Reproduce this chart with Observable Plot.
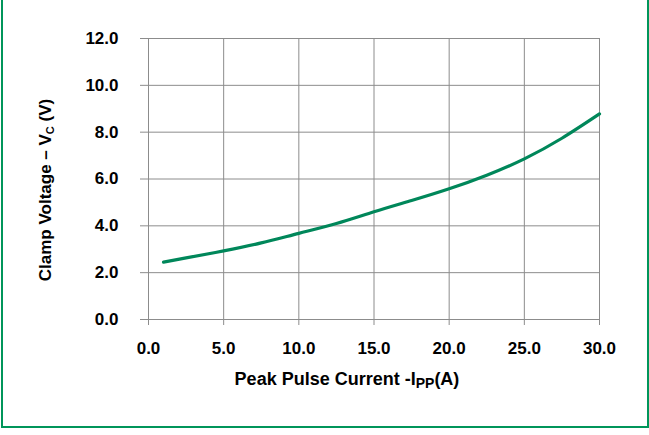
<!DOCTYPE html>
<html><head><meta charset="utf-8">
<script src="https://cdn.jsdelivr.net/npm/d3@7"></script>
<script src="https://cdn.jsdelivr.net/npm/@observablehq/plot@0.6"></script>
<style>
body{margin:0;background:#fff;}
#wrap{position:relative;width:649px;height:435px;overflow:hidden;}
#wrap svg{position:absolute;left:0;top:0;}
#wrap svg g[aria-label*="tick label"], #wrap svg g[aria-label*="tick label"] text{font-size:17px !important;font-weight:bold;}
#border{position:absolute;left:1px;top:-3px;width:648px;height:431px;border:2px solid #00955a;box-sizing:border-box;pointer-events:none;}
</style></head><body><div id="wrap"><div id="border"></div></div>
<script>
const current = [1, 2.5, 5, 7.5, 10, 12.5, 15, 17.5, 20, 22.5, 25, 27.5, 30];
const voltage = [2.45, 2.63, 2.93, 3.27, 3.68, 4.1, 4.6, 5.08, 5.58, 6.16, 6.86, 7.74, 8.78];
const xTicks = [0, 5, 10, 15, 20, 25, 30];
const yTicks = [0, 2, 4, 6, 8, 10, 12];
const xLabel = ["Peak Pulse Current -I", "PP", "(A)"];
const yLabel = ["Clamp Voltage \u2013 V", "C", " (V)"];

const data = current.map((x, i) => ({x, y: voltage[i]}));
const fmt = d => d.toFixed(1);
const gridColor = "#8c8c8c";
const font = "'Liberation Sans', Arial, sans-serif";

const plot = Plot.plot({
  width: 649, height: 435,
  marginLeft: 148, marginRight: 50, marginTop: 38, marginBottom: 116,
  x: {domain: [0, 30]},
  y: {domain: [0, 12]},
  style: {fontFamily: font, fontSize: "17px", fontWeight: "bold", color: "#000", background: "transparent", overflow: "visible"},
  marks: [
    Plot.gridX(xTicks, {stroke: gridColor, strokeOpacity: 1, strokeWidth: 1}),
    Plot.gridY(yTicks, {stroke: gridColor, strokeOpacity: 1, strokeWidth: 1}),
    Plot.axisX(xTicks, {tickSize: 6, tickPadding: 16, tickFormat: fmt, stroke: gridColor, fill: "#000", fontSize: 17, label: null}),
    Plot.axisY(yTicks, {tickSize: 8, tickPadding: 22, tickFormat: fmt, stroke: gridColor, fill: "#000", fontSize: 17, label: null}),
    Plot.line(data, {x: "x", y: "y", stroke: "#00875a", strokeWidth: 3.2, curve: "natural"})
  ]
});
document.getElementById("wrap").prepend(plot);

const svg = d3.select(plot);
const xl = svg.append("text")
  .attr("x", 347).attr("y", 385)
  .attr("text-anchor", "middle").attr("font-family", font)
  .attr("font-size", 18).attr("font-weight", "bold").attr("fill", "#000");
xl.append("tspan").text(xLabel[0]);
xl.append("tspan").attr("font-size", 14).attr("dy", 3).text(xLabel[1]);
xl.append("tspan").attr("dy", -3).text(xLabel[2]);

const yl = svg.append("text")
  .attr("transform", "translate(51,190) rotate(-90)")
  .attr("text-anchor", "middle").attr("font-family", font)
  .attr("font-size", 17).attr("font-weight", "bold").attr("fill", "#000");
yl.append("tspan").text(yLabel[0]);
yl.append("tspan").attr("font-size", 11).attr("dy", 3).text(yLabel[1]);
yl.append("tspan").attr("dy", -3).text(yLabel[2]);
</script>
</body></html>
